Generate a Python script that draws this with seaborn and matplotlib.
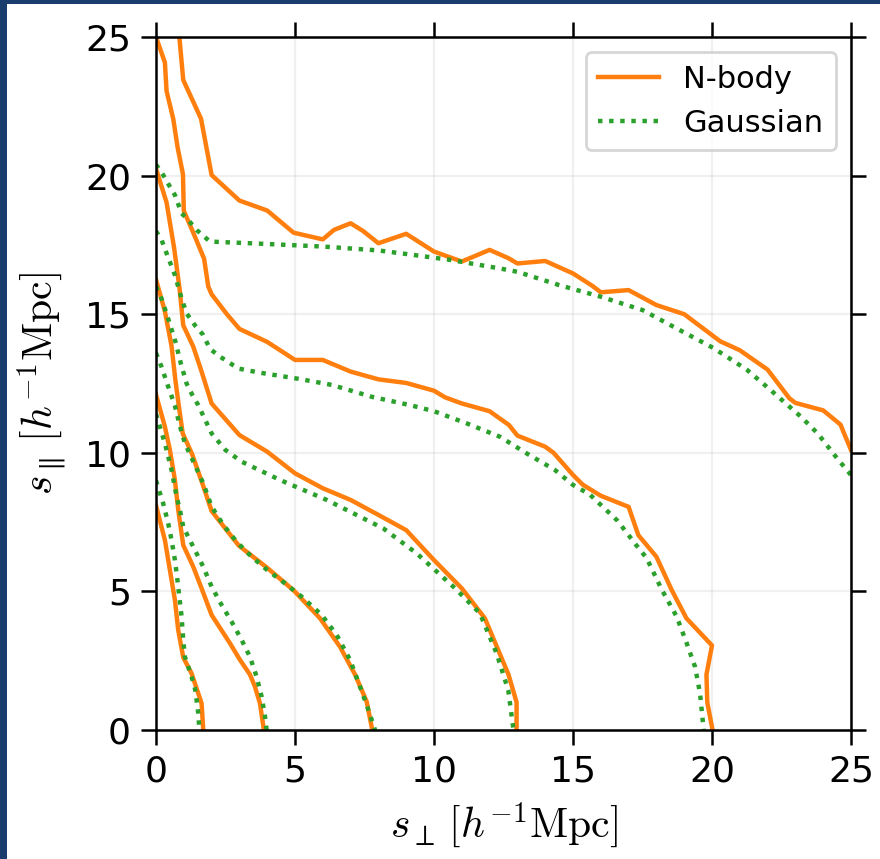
import matplotlib
matplotlib.use("Agg")
import matplotlib.pyplot as plt
from matplotlib.patches import Rectangle
import numpy as np
import pandas as pd
import seaborn as sns

# ---------------- data ----------------
MODELS = ["N-body", "Gaussian"]
TICKS = [0, 5, 10, 15, 20, 25]

# N-body contours (innermost -> outermost)
nb1_x = [0, 0.32, 0.5, 0.68, 0.8, 0.98, 1.28, 1.52, 1.64, 1.7]
nb1_y = [8.1, 6.85, 5.77, 4.69, 3.6, 2.62, 2.04, 1.32, 0.96, 0]
nb2_x = [0, 0.32, 0.5, 0.68, 0.8, 0.98, 1.34, 1.64, 2.0, 2.66, 3.02, 3.38, 3.56, 3.74, 3.88]
nb2_y = [12.1, 10.94, 10.1, 9.02, 7.94, 6.67, 5.89, 5.11, 4.15, 3.13, 2.53, 2.0, 1.56, 0.96, 0]
nb3_x = [0, 0.32, 0.56, 0.7, 0.82, 0.96, 1.3, 1.7, 2.0, 2.98, 4.0, 4.96, 5.9, 6.62, 7.16, 7.58, 7.78]
nb3_y = [16.25, 15.1, 13.85, 12.6, 11.7, 10.7, 9.95, 8.8, 7.9, 6.65, 5.85, 5.03, 4.03, 3.0, 2.0, 1.02, 0]
nb4_x = [0, 0.38, 0.65, 0.85, 0.98, 1.34, 1.64, 2.0, 3.0, 4.0, 5.0, 6.0, 7.0, 8.0, 9.0, 10.0,
         11.0, 11.83, 12.68, 12.97, 12.97]
nb4_y = [20.25, 19.03, 17.4, 15.9, 14.6, 13.83, 12.93, 11.78, 10.64, 10.04, 9.26, 8.72, 8.3, 7.76,
         7.21, 6.13, 5.11, 4.03, 2.0, 1.0, 0]
nb5_x = [0, 0.32, 0.38, 0.62, 0.78, 0.97, 1.0, 1.35, 1.73, 1.88, 2.0, 2.55, 3.0, 4.0, 5.0, 6.0,
         7.0, 8.0, 9.0, 10.0, 10.4, 11.0, 12.0, 12.7, 13.0, 14.0, 14.3, 15.0, 15.35, 16.0, 17.0,
         17.35, 18.0, 18.55, 19.08, 20.0, 19.8, 19.83, 20.02]
nb5_y = [25, 24.08, 23.05, 22.05, 21.0, 20.05, 18.73, 17.92, 17.0, 16.0, 15.72, 15.0, 14.47, 14.0,
         13.35, 13.35, 12.93, 12.65, 12.52, 12.24, 12.0, 11.78, 11.5, 11.0, 10.62, 10.22, 10.0,
         9.2, 8.85, 8.45, 8.05, 7.03, 6.25, 5.05, 4.03, 3.05, 2.0, 1.0, 0]
nb6_x = [0.84, 0.98, 1.62, 2.0, 3.0, 4.0, 4.95, 6.0, 6.4, 7.0, 7.45, 8.0, 9.0, 10.0, 11.0, 12.0,
         12.68, 13.0, 14.0, 15.0, 15.7, 16.0, 17.0, 18.0, 19.0, 20.3, 21.0, 22.0, 22.78, 23.0,
         24.0, 24.62, 25.0]
nb6_y = [25, 23.45, 22.05, 20.02, 19.1, 18.74, 17.94, 17.7, 18.04, 18.28, 18.0, 17.56, 17.9,
         17.26, 16.9, 17.32, 17.02, 16.83, 16.92, 16.47, 16.02, 15.79, 15.87, 15.33, 15.0, 14.02,
         13.7, 13.0, 11.97, 11.8, 11.53, 11.02, 10.1]

# Gaussian-model contours (innermost -> outermost)
ga1_x = [0, 0.26, 0.44, 0.56, 0.68, 0.76, 0.84, 0.92, 0.98, 1.04, 1.16, 1.28, 1.4, 1.46, 1.52, 1.56]
ga1_y = [9.0, 8.17, 7.45, 6.85, 6.13, 5.5, 4.8, 4.09, 3.25, 2.64, 2.28, 1.92, 1.5, 1.08, 0.6, 0]
ga2_x = [0, 0.32, 0.56, 0.74, 0.86, 0.98, 1.16, 1.34, 1.7, 2.0, 2.36, 2.72, 3.08, 3.38, 3.62,
         3.8, 3.92, 3.98]
ga2_y = [11.4, 10.34, 9.38, 8.42, 7.94, 7.33, 6.97, 6.61, 5.89, 5.17, 4.51, 3.91, 3.25, 2.64,
         1.92, 1.2, 0.5, 0]
ga3_x = [0, 0.2, 0.4, 0.68, 0.85, 1.04, 1.4, 1.7, 2.0, 2.42, 2.9, 3.44, 4.0, 4.64, 5.24, 5.96,
         6.5, 6.98, 7.34, 7.6, 7.88]
ga3_y = [13.6, 13.1, 12.5, 11.7, 11.0, 10.34, 9.56, 8.9, 8.06, 7.4, 6.79, 6.25, 5.77, 5.29, 4.81,
         4.15, 3.43, 2.53, 1.56, 0.84, 0]
ga4_x = [0, 0.2, 0.45, 0.7, 0.9, 1.1, 1.3, 1.52, 2.0, 2.5, 3.08, 4.46, 6.14, 8.18, 9.38, 10.76,
         11.65, 12.25, 12.67, 12.86]
ga4_y = [16.0, 15.56, 14.8, 14.0, 13.2, 12.5, 12.1, 11.72, 10.7, 10.1, 9.68, 9.02, 8.3, 7.27,
         6.37, 5.11, 4.21, 2.77, 1.44, 0]
ga5_x = [0, 0.2, 0.38, 0.68, 0.92, 1.1, 1.4, 1.7, 1.94, 2.3, 2.96, 3.74, 5.18, 6.32, 7.76, 9.14,
         10.0, 11.18, 12.37, 13.33, 14.35, 15.0, 15.6, 16.6, 17.25, 17.65, 18.2, 18.73, 19.09,
         19.39, 19.57, 19.7]
ga5_y = [18.0, 17.68, 17.2, 16.41, 15.57, 15.03, 14.6, 14.25, 13.75, 13.47, 13.04, 12.89, 12.66,
         12.45, 12.02, 11.72, 11.5, 11.06, 10.58, 9.98, 9.38, 8.84, 8.5, 7.55, 6.7, 6.2, 5.05,
         4.09, 3.13, 2.28, 1.32, 0]
ga6_x = [0, 0.26, 0.5, 0.68, 0.92, 1.16, 1.46, 1.94, 3.38, 6.02, 8.0, 9.02, 10.58, 12.37, 13.0,
         14.5, 16.0, 17.5, 18.7, 20.05, 21.25, 22.1, 23.2, 23.8, 24.5, 25.0]
ga6_y = [20.4, 20.02, 19.6, 19.3, 18.64, 18.4, 18.04, 17.62, 17.56, 17.44, 17.3, 17.17, 16.96,
         16.65, 16.53, 16.05, 15.63, 15.15, 14.5, 13.78, 13.0, 12.27, 11.3, 10.7, 9.8, 9.2]

# ---------------- assemble long table ----------------
curves = [
    ("N-body", 1, nb1_x, nb1_y), ("N-body", 2, nb2_x, nb2_y), ("N-body", 3, nb3_x, nb3_y),
    ("N-body", 4, nb4_x, nb4_y), ("N-body", 5, nb5_x, nb5_y), ("N-body", 6, nb6_x, nb6_y),
    ("Gaussian", 1, ga1_x, ga1_y), ("Gaussian", 2, ga2_x, ga2_y), ("Gaussian", 3, ga3_x, ga3_y),
    ("Gaussian", 4, ga4_x, ga4_y), ("Gaussian", 5, ga5_x, ga5_y), ("Gaussian", 6, ga6_x, ga6_y),
]
frames = []
for model, lev, xs, ys in curves:
    frames.append(pd.DataFrame({"s_perp": xs, "s_par": ys, "model": model,
                                "contour": f"{model}-{lev}"}))
df = pd.concat(frames, ignore_index=True)

# ---------------- style ----------------
plt.rcParams["font.family"] = ["DejaVu Sans"]
plt.rcParams["mathtext.fontset"] = "cm"

fig = plt.figure(figsize=(4.4, 4.295), dpi=200)
fig.patch.set_facecolor("white")
# dark-blue slide border (left and top edges)
fig.add_artist(Rectangle((0, 0), 7 / 880, 1, transform=fig.transFigure,
                         facecolor="#1b3d6d", edgecolor="none", zorder=10))
fig.add_artist(Rectangle((0, 1 - 4 / 859), 1, 4 / 859, transform=fig.transFigure,
                         facecolor="#1b3d6d", edgecolor="none", zorder=10))

ax = fig.add_axes([156 / 880, 1 - 730 / 859, 695 / 880, 693 / 859])

sns.lineplot(data=df, x="s_perp", y="s_par", hue="model", style="model",
             units="contour", estimator=None, sort=False,
             hue_order=MODELS, style_order=MODELS,
             palette={"N-body": "#ff7f0e", "Gaussian": "#2ca02c"},
             dashes={"N-body": "", "Gaussian": (1, 1.5)},
             linewidth=1.6, ax=ax)

ax.set_xlim(0, 25)
ax.set_ylim(0, 25)
ax.set_xticks(TICKS)
ax.set_yticks(TICKS)
ax.grid(True, color="#b0b0b0", alpha=0.18, linewidth=0.8)
ax.set_axisbelow(True)
ax.tick_params(axis="both", which="major", direction="out", length=5.5, width=0.9,
               labelsize=13, top=True, right=True, colors="black", pad=3.5)
for sp in ax.spines.values():
    sp.set_linewidth(0.9)
    sp.set_color("black")

ax.set_xlabel(r"$s_\perp\,[h^{-1}\mathrm{Mpc}]$", fontsize=15, labelpad=4)
ax.set_ylabel(r"$s_\parallel\,[h^{-1}\mathrm{Mpc}]$", fontsize=15, labelpad=6)

leg = ax.get_legend()
handles, labels = [], []
if leg is not None:
    for h, t in zip(leg.legend_handles, leg.texts):
        if t.get_text() in MODELS:
            handles.append(h)
            labels.append(t.get_text())
    leg.remove()
ax.legend(handles, labels, loc="upper right", fontsize=11, frameon=True,
          handlelength=2.0, borderaxespad=0.5)

fig.savefig("out.png", dpi=200, facecolor=fig.get_facecolor())
